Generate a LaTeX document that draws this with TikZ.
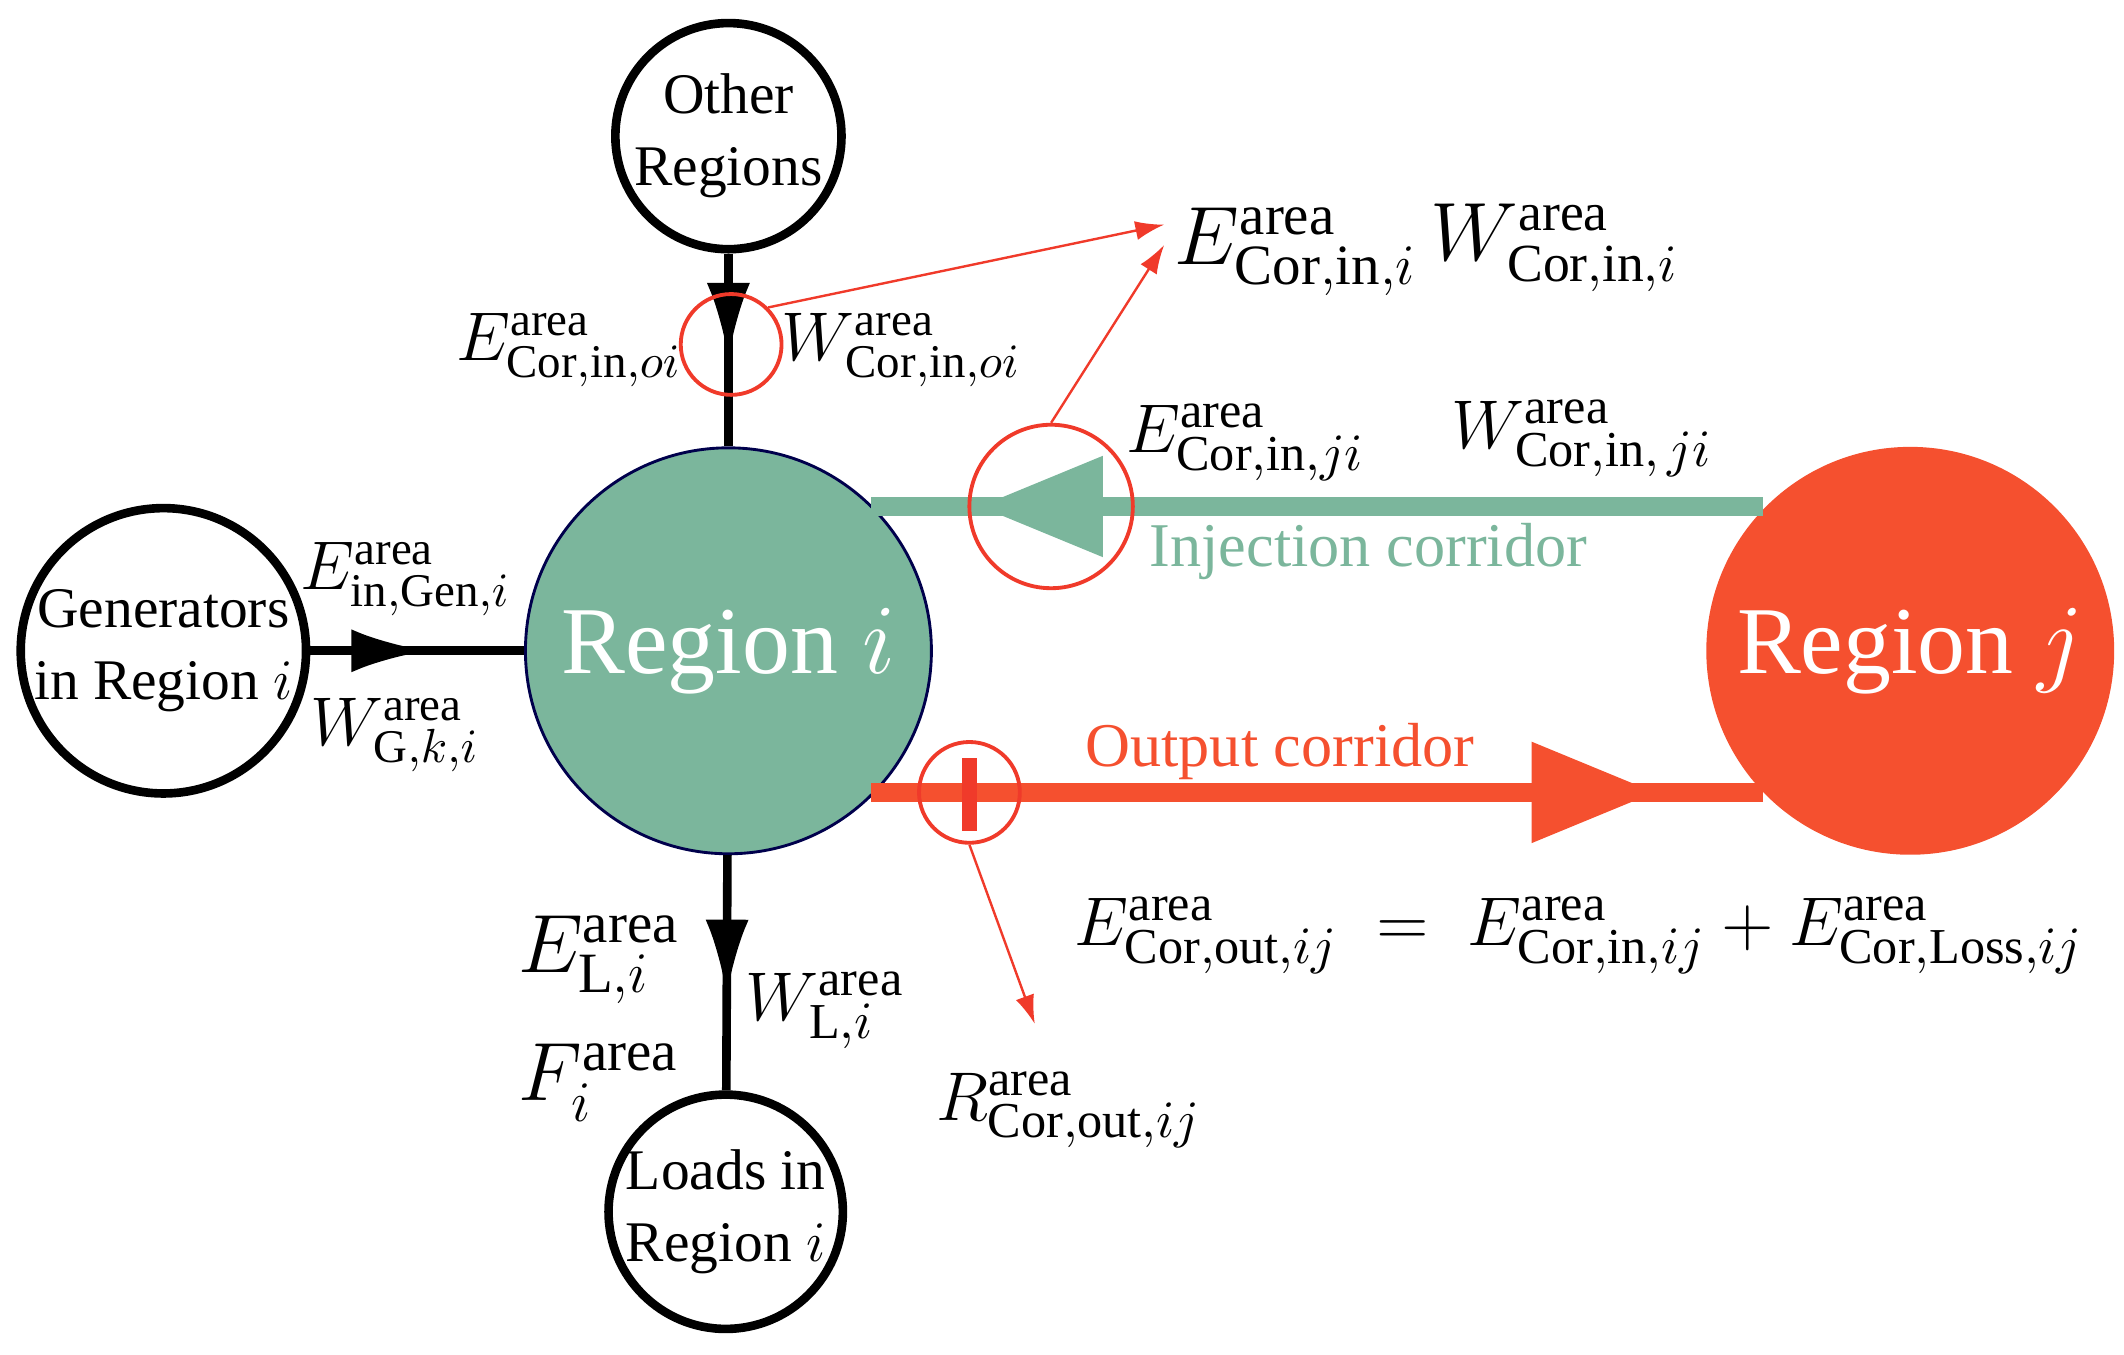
\documentclass[tikz,border=0pt]{standalone}
\usepackage{fontspec}
\setmainfont{Liberation Serif}
\usetikzlibrary{arrows.meta,decorations.markings}
\definecolor{regi}{HTML}{7BB69C}
\definecolor{regj}{HTML}{F5502F}
\definecolor{corred}{HTML}{F03A2A}
\newcommand{\ar}{\mathrm{area}}
\begin{document}
\begin{tikzpicture}[x=0.01cm,y=-0.01cm,
  sub/.style={circle,draw=black,line width=1.8pt,minimum size=1.66cm,inner sep=0pt,align=center,font=\fontsize{12}{15}\selectfont},
  lbl/.style={font=\fontsize{14}{17}\selectfont,inner sep=1pt},
  midarrow/.style={decoration={markings,mark=at position #1 with {\arrow{Latex[length=16pt,width=9pt]}}},postaction={decorate}},
  bigarrow/.style 2 args={decoration={markings,mark=at position #1 with {\arrow{Triangle[length=26pt,width=20pt,#2]}}},postaction={decorate}},
  redring/.style={circle,draw=corred,line width=0.8pt,inner sep=0pt},
  thinarrow/.style={draw=corred,line width=0.5pt,-{Latex[length=6pt,width=4pt]}}]
\useasboundingbox (0,0) rectangle (1560,995);
% regions
\node[circle,draw=black!70!blue,line width=0.6pt,fill=regi,minimum size=2.98cm,inner sep=0pt,text=white,font=\fontsize{20}{24}\selectfont] (ri) at (535,478) {Region $i$};
\node[circle,draw=regj,fill=regj,minimum size=2.98cm,inner sep=0pt,text=white,font=\fontsize{20}{24}\selectfont] (rj) at (1403,478) {Region $j$};
\node[sub] (oth) at (535,100) {Other\\Regions};
\node[sub,minimum size=2.06cm] (gen) at (120,478) {Generators\\in Region $i$};
\node[sub] (load) at (533,890) {Loads in\\Region $i$};
% connectors
\draw[line width=1.8pt,midarrow=0.55] (oth) -- (ri);
\draw[line width=1.8pt,midarrow=0.55] (gen) -- (ri);
\draw[line width=1.8pt,midarrow=0.6] (ri) -- (load);
\coordinate (inR) at (1295,372);
\coordinate (inL) at (640,372);
\coordinate (outL) at (640,582);
\coordinate (outR) at (1295,582);
\draw[regi,line width=4pt,bigarrow={0.88}{regi}] (inR) -- (inL);
\draw[regj,line width=4pt,bigarrow={0.88}{regj}] (outL) -- (outR);
\node[font=\fontsize{13}{16}\selectfont,text=regi] (injl) at (1005,405) {Injection corridor};
\node[font=\fontsize{13}{16}\selectfont,text=regj] (outl) at (940,552) {Output corridor};
% red marks
\node[redring,minimum size=0.74cm] (m1) at (537,253) {};
\node[redring,minimum size=1.2cm] (m2) at (772,372) {};
\node[redring,minimum size=0.74cm] (m3) at (712,582) {};
\draw[corred,line width=3pt] (712,557) -- (712,610);
\coordinate (t1) at (855,165);
\coordinate (t2) at (855,180);
\coordinate (t3) at (760,752);
\draw[thinarrow] (m1.north east) -- (t1);
\draw[thinarrow] (m2.north) -- (t2);
\draw[thinarrow] (m3.south) -- (t3);
% labels
\node[lbl,font=\fontsize{17}{20}\selectfont] (e1) at (952,185) {$E^{\ar}_{\mathrm{Cor,in},i}$};
\node[lbl,font=\fontsize{16}{19}\selectfont] (w1) at (1142,182) {$W^{\ar}_{\mathrm{Cor,in},i}$};
\node[lbl] (e2) at (418,257) {$E^{\ar}_{\mathrm{Cor,in},oi}$};
\node[lbl] (w2) at (662,257) {$W^{\ar}_{\mathrm{Cor,in},oi}$};
\node[lbl,font=\fontsize{15}{18}\selectfont] (e3) at (915,325) {$E^{\ar}_{\mathrm{Cor,in},ji}$};
\node[lbl,font=\fontsize{15}{18}\selectfont] (w3) at (1162,322) {$W^{\ar}_{\mathrm{Cor,in},\,ji}$};
\node[lbl] (e4) at (298,425) {$E^{\ar}_{\mathrm{in,Gen},i}$};
\node[lbl] (w4) at (290,540) {$W^{\ar}_{\mathrm{G},k,i}$};
\node[lbl,font=\fontsize{15}{18}\selectfont] (eq) at (1160,687) {$E^{\ar}_{\mathrm{Cor,out},ij} \;=\; E^{\ar}_{\mathrm{Cor,in},ij} + E^{\ar}_{\mathrm{Cor,Loss},ij}$};
\node[lbl,font=\fontsize{17}{20}\selectfont] (e5) at (440,705) {$E^{\ar}_{\mathrm{L},i}$};
\node[lbl,font=\fontsize{15}{18}\selectfont] (w5) at (606,742) {$W^{\ar}_{\mathrm{L},i}$};
\node[lbl,font=\fontsize{17}{20}\selectfont] (f5) at (440,795) {$F^{\ar}_{i}$};
\node[lbl,font=\fontsize{15}{18}\selectfont] (r5) at (785,815) {$R^{\ar}_{\mathrm{Cor,out},ij}$};
\end{tikzpicture}
\end{document}
